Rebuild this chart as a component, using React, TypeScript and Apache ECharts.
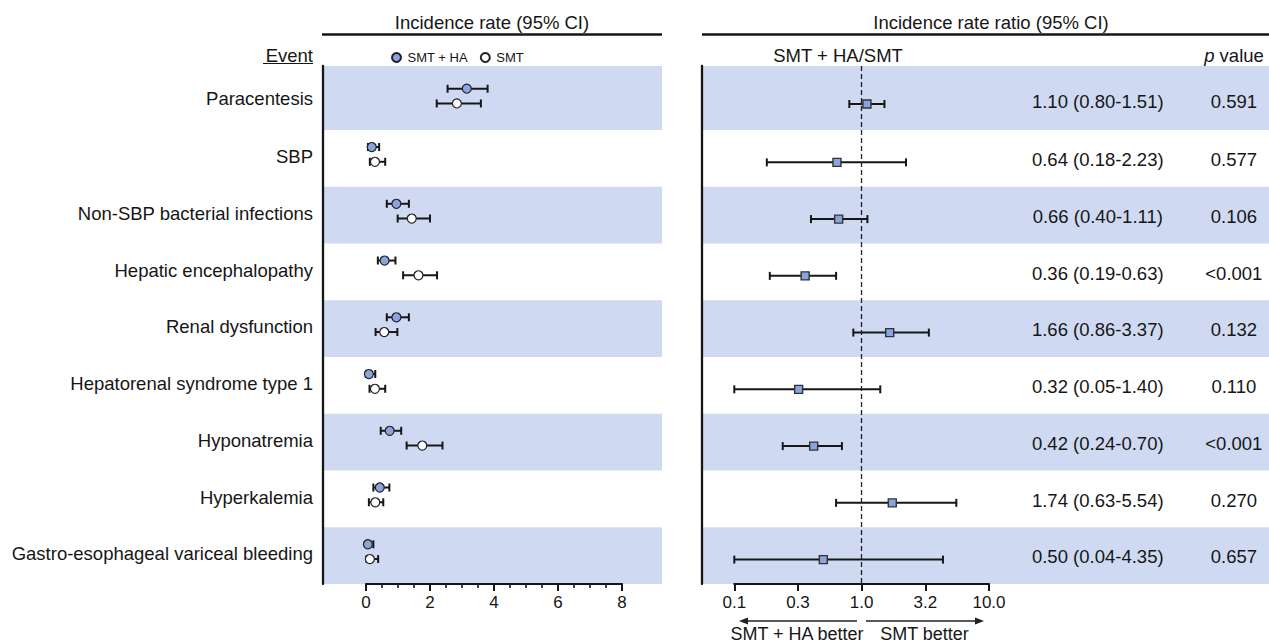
import React, { useEffect, useRef } from "react";
import * as echarts from "echarts";

// ---------- data ----------
const events = [
  "Paracentesis",
  "SBP",
  "Non-SBP bacterial infections",
  "Hepatic encephalopathy",
  "Renal dysfunction",
  "Hepatorenal syndrome type 1",
  "Hyponatremia",
  "Hyperkalemia",
  "Gastro-esophageal variceal bleeding",
];

const haRate = [3.15, 0.18, 0.95, 0.58, 0.95, 0.09, 0.74, 0.43, 0.06];
const haLow = [2.55, 0.06, 0.65, 0.37, 0.65, 0.0, 0.46, 0.23, 0.0];
const haHigh = [3.8, 0.41, 1.34, 0.92, 1.34, 0.29, 1.1, 0.73, 0.23];

const smtRate = [2.84, 0.28, 1.43, 1.64, 0.57, 0.28, 1.76, 0.29, 0.12];
const smtLow = [2.21, 0.12, 0.99, 1.16, 0.3, 0.11, 1.27, 0.09, 0.02];
const smtHigh = [3.59, 0.6, 2.0, 2.22, 0.98, 0.6, 2.39, 0.54, 0.38];

const irr = [1.1, 0.64, 0.66, 0.36, 1.66, 0.32, 0.42, 1.74, 0.5];
const irrLow = [0.8, 0.18, 0.4, 0.19, 0.86, 0.05, 0.24, 0.63, 0.04];
const irrHigh = [1.51, 2.23, 1.11, 0.63, 3.37, 1.4, 0.7, 5.54, 4.35];
const pValues = ["0.591", "0.577", "0.106", "<0.001", "0.132", "0.110", "<0.001", "0.270", "0.657"];

const rateTicks = [0, 2, 4, 6, 8];
const ratioTicks = ["0.1", "0.3", "1.0", "3.2", "10.0"];

// ---------- layout helpers ----------
const FONT = "Liberation Sans, Arial, Helvetica, sans-serif";
const INK = "#161616";
const BAND = "#cfdaf2";
const BLUE = "#8ba3de";
const Y_MAX = 9.128;
const rowY = events.map((_, k) => (k === 0 ? 0.6 : k + 0.628));
const bandRows = events.map((_, k) => k).filter((k) => k % 2 === 0);
const RATIO_MIN = -1;
const RATIO_MAX = 1;

function errorBarItem(params: any, api: any) {
  const y = api.value(2);
  const lo = api.coord([api.value(0), y]);
  const hi = api.coord([api.value(1), y]);
  const h = 4;
  const style = { stroke: INK, lineWidth: 2 };
  return {
    type: "group",
    children: [
      { type: "line", shape: { x1: lo[0], y1: lo[1], x2: hi[0], y2: hi[1] }, style },
      { type: "line", shape: { x1: lo[0], y1: lo[1] - h, x2: lo[0], y2: lo[1] + h }, style },
      { type: "line", shape: { x1: hi[0], y1: hi[1] - h, x2: hi[0], y2: hi[1] + h }, style },
    ],
  };
}

function bandItem(params: any, api: any) {
  const k = api.value(0);
  const start = k === 0 ? 0 : k + 0.128;
  const end = k + 1.128;
  const p0 = api.coord([0, start]);
  const p1 = api.coord([1, end]);
  return {
    type: "rect",
    shape: { x: p0[0], y: p0[1], width: p1[0] - p0[0], height: p1[1] - p0[1] },
    style: { fill: BAND },
  };
}

export default function App() {
  const ref = useRef<HTMLDivElement>(null);

  useEffect(() => {
    document.body.style.margin = "0";
    const chart = echarts.init(ref.current!, null, { renderer: "svg" });

    const yHidden = (gridIndex: number) => ({
      type: "value",
      gridIndex,
      min: 0,
      max: Y_MAX,
      inverse: true,
      show: false,
    });
    const yShown = (gridIndex: number) => ({
      type: "value",
      gridIndex,
      min: 0,
      max: Y_MAX,
      inverse: true,
      position: "left",
      axisLine: { show: true, onZero: false, lineStyle: { color: INK, width: 2.3 } },
      axisTick: { show: false },
      axisLabel: { show: false },
      splitLine: { show: false },
    });

    const option: any = {
      animation: false,
      textStyle: { fontFamily: FONT, color: INK },
      grid: [
        { left: 323, width: 339, top: 66, height: 518 }, // left background
        { left: 366, width: 256, top: 66, height: 518 }, // left data 0..8
        { left: 702, width: 567, top: 66, height: 518 }, // right background
        { left: 734.3, width: 254.7, top: 66, height: 518 }, // right data (log10)
      ],
      xAxis: [
        { type: "value", gridIndex: 0, min: 0, max: 1, show: false },
        {
          type: "value",
          gridIndex: 1,
          position: "bottom",
          min: rateTicks[0],
          max: rateTicks[rateTicks.length - 1],
          interval: 2,
          axisLine: { show: true, onZero: false, lineStyle: { color: INK, width: 2.2 } },
          axisTick: { show: true, length: 7, lineStyle: { color: INK, width: 2 } },
          minorTick: { show: true, splitNumber: 4, length: 4, lineStyle: { color: INK, width: 1.6 } },
          axisLabel: { fontSize: 17, color: INK, margin: 10, fontFamily: FONT },
          splitLine: { show: false },
          minorSplitLine: { show: false },
        },
        { type: "value", gridIndex: 2, min: 0, max: 1, show: false },
        {
          type: "value",
          gridIndex: 3,
          position: "bottom",
          min: RATIO_MIN,
          max: RATIO_MAX,
          interval: 0.5,
          axisLine: { show: true, onZero: false, lineStyle: { color: INK, width: 2.2 } },
          axisTick: { show: true, length: 7, lineStyle: { color: INK, width: 2 } },
          axisLabel: {
            fontSize: 17,
            color: INK,
            margin: 10,
            fontFamily: FONT,
            formatter: (v: number) => ratioTicks[Math.round((v - RATIO_MIN) / 0.5)] ?? "",
          },
          splitLine: { show: false },
        },
      ],
      yAxis: [yShown(0), yHidden(1), yShown(2), yHidden(3)],
      legend: {
        left: 386,
        top: 46,
        itemWidth: 12,
        itemHeight: 9,
        itemGap: 12,
        selectedMode: false,
        textStyle: { fontSize: 13, color: INK, fontFamily: FONT },
        data: [
          { name: "SMT + HA", icon: "circle" },
          { name: "SMT", icon: "circle" },
        ],
      },
      series: [
        // background bands
        {
          type: "custom",
          xAxisIndex: 0,
          yAxisIndex: 0,
          renderItem: bandItem,
          data: bandRows.map((k) => [k]),
          silent: true,
          z: 0,
        },
        {
          type: "custom",
          xAxisIndex: 2,
          yAxisIndex: 2,
          renderItem: bandItem,
          data: bandRows.map((k) => [k]),
          silent: true,
          z: 0,
        },
        // event labels
        {
          type: "custom",
          xAxisIndex: 0,
          yAxisIndex: 0,
          silent: true,
          data: events.map((_, i) => [rowY[i] - 0.03]),
          renderItem: (params: any, api: any) => {
            const p = api.coord([0, api.value(0)]);
            return {
              type: "text",
              x: p[0] - 10,
              y: p[1],
              style: {
                text: events[params.dataIndex],
                align: "right",
                verticalAlign: "middle",
                fontSize: 18.5,
                fontFamily: FONT,
                fill: INK,
              },
            };
          },
          z: 3,
        },
        // ratio & p value text columns
        {
          type: "custom",
          xAxisIndex: 2,
          yAxisIndex: 2,
          silent: true,
          data: events.map((_, i) => [rowY[i] + 0.02]),
          renderItem: (params: any, api: any) => {
            const i = params.dataIndex;
            const a = api.coord([0.698, api.value(0)]);
            const b = api.coord([0.938, api.value(0)]);
            const base = { verticalAlign: "middle", fontSize: 18.5, fontFamily: FONT, fill: INK, align: "center" };
            return {
              type: "group",
              children: [
                {
                  type: "text",
                  x: a[0],
                  y: a[1],
                  style: {
                    ...base,
                    text: `${irr[i].toFixed(2)} (${irrLow[i].toFixed(2)}-${irrHigh[i].toFixed(2)})`,
                  },
                },
                { type: "text", x: b[0], y: b[1], style: { ...base, text: pValues[i] } },
              ],
            };
          },
          z: 3,
        },
        // left error bars
        {
          type: "custom",
          xAxisIndex: 1,
          yAxisIndex: 1,
          silent: true,
          clip: false,
          renderItem: errorBarItem,
          data: haRate.map((_, i) => [haLow[i], haHigh[i], rowY[i] - 0.2]),
          z: 4,
        },
        {
          type: "custom",
          xAxisIndex: 1,
          yAxisIndex: 1,
          silent: true,
          clip: false,
          renderItem: errorBarItem,
          data: smtRate.map((_, i) => [smtLow[i], smtHigh[i], rowY[i] + 0.06]),
          z: 4,
        },
        {
          name: "SMT + HA",
          type: "scatter",
          xAxisIndex: 1,
          yAxisIndex: 1,
          symbol: "circle",
          symbolSize: 9,
          clip: false,
          itemStyle: { color: BLUE, borderColor: "#222", borderWidth: 1.2, opacity: 1 },
          data: haRate.map((v, i) => [v, rowY[i] - 0.2]),
          z: 5,
        },
        {
          name: "SMT",
          type: "scatter",
          xAxisIndex: 1,
          yAxisIndex: 1,
          symbol: "circle",
          symbolSize: 9,
          clip: false,
          itemStyle: { color: "#ffffff", borderColor: "#222", borderWidth: 1.2, opacity: 1 },
          data: smtRate.map((v, i) => [v, rowY[i] + 0.06]),
          z: 5,
        },
        // right error bars (clamped to axis min)
        {
          type: "custom",
          xAxisIndex: 3,
          yAxisIndex: 3,
          silent: true,
          clip: false,
          renderItem: errorBarItem,
          data: irr.map((_, i) => [
            Math.max(Math.log10(irrLow[i]), RATIO_MIN),
            Math.min(Math.log10(irrHigh[i]), RATIO_MAX),
            rowY[i] + 0.07,
          ]),
          z: 4,
        },
        {
          name: "IRR",
          type: "scatter",
          xAxisIndex: 3,
          yAxisIndex: 3,
          symbol: "rect",
          symbolSize: 8,
          clip: false,
          itemStyle: { color: "#8aa4e2", borderColor: "#333", borderWidth: 1.4, opacity: 1 },
          data: irr.map((v, i) => [Math.log10(v), rowY[i] + 0.07]),
          markLine: {
            silent: true,
            symbol: ["none", "none"],
            label: { show: false },
            lineStyle: { type: [5, 3], color: "#222", width: 1.3 },
            data: [{ xAxis: 0 }],
          },
          z: 5,
        },
      ],
      graphic: [
        {
          type: "text",
          x: 492,
          y: 22,
          style: { text: "Incidence rate (95% CI)", align: "center", verticalAlign: "middle", fontSize: 18.5, fontFamily: FONT, fill: INK },
        },
        {
          type: "text",
          x: 991,
          y: 22,
          style: { text: "Incidence rate ratio (95% CI)", align: "center", verticalAlign: "middle", fontSize: 18.5, fontFamily: FONT, fill: INK },
        },
        { type: "line", shape: { x1: 322, y1: 34.5, x2: 662, y2: 34.5 }, style: { stroke: INK, lineWidth: 2.3 } },
        { type: "line", shape: { x1: 702, y1: 34.5, x2: 1269, y2: 34.5 }, style: { stroke: INK, lineWidth: 2.3 } },
        {
          type: "text",
          x: 313,
          y: 55,
          style: { text: "Event", align: "right", verticalAlign: "middle", fontSize: 18.5, fontFamily: FONT, fill: INK },
        },
        { type: "line", shape: { x1: 263, y1: 63.5, x2: 313, y2: 63.5 }, style: { stroke: INK, lineWidth: 1.2 } },
        {
          type: "text",
          x: 838,
          y: 55,
          style: { text: "SMT + HA/SMT", align: "center", verticalAlign: "middle", fontSize: 18.5, fontFamily: FONT, fill: INK },
        },
        {
          type: "text",
          x: 1234,
          y: 55,
          style: {
            text: "{i|p} value",
            align: "center",
            verticalAlign: "middle",
            fontSize: 18.5,
            fontFamily: FONT,
            fill: INK,
            rich: { i: { fontStyle: "italic", fontSize: 18.5, fontFamily: FONT, fill: INK } },
          },
        },
        // arrows
        { type: "line", shape: { x1: 857, y1: 621, x2: 746, y2: 621 }, style: { stroke: "#222", lineWidth: 1.6 } },
        { type: "polygon", shape: { points: [[739, 621], [748, 617.5], [748, 624.5]] }, style: { fill: "#222" } },
        { type: "line", shape: { x1: 866, y1: 621, x2: 977, y2: 621 }, style: { stroke: "#222", lineWidth: 1.6 } },
        { type: "polygon", shape: { points: [[984, 621], [975, 617.5], [975, 624.5]] }, style: { fill: "#222" } },
        {
          type: "text",
          x: 797,
          y: 634,
          style: { text: "SMT + HA better", align: "center", verticalAlign: "middle", fontSize: 18, fontFamily: FONT, fill: INK },
        },
        {
          type: "text",
          x: 924.5,
          y: 634,
          style: { text: "SMT better", align: "center", verticalAlign: "middle", fontSize: 18, fontFamily: FONT, fill: INK },
        },
      ],
    };

    chart.setOption(option);
    return () => chart.dispose();
  }, []);

  return (
    <div
      ref={ref}
      style={{ position: "fixed", left: 0, top: 0, width: 1269, height: 644, background: "#fff" }}
    />
  );
}
